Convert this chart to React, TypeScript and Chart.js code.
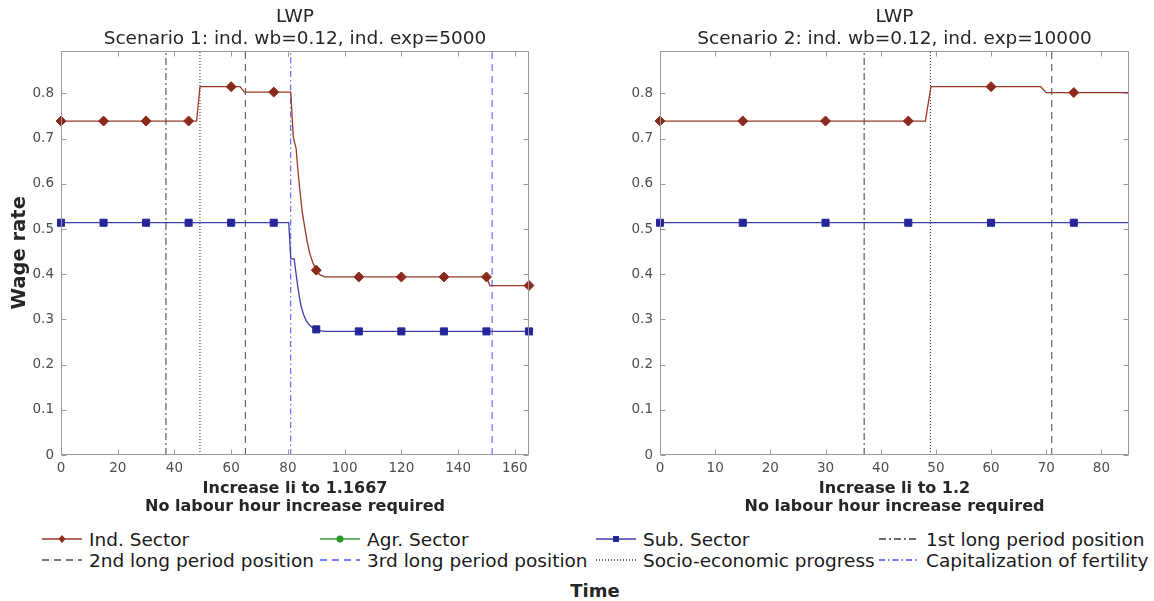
import React, { useEffect, useRef } from "react";
import { Chart, registerables } from "chart.js";

Chart.register(...registerables);

const FONT = "'DejaVu Sans', 'Liberation Sans', sans-serif";

// ---------- Scenario 1 data ----------
const s1IndTime = [0, 15, 30, 45, 47.8, 49, 60, 63.1, 64.7, 75, 81.0, 81.9, 82.9, 83.5, 84.1, 85.0, 85.9, 86.8, 87.7, 88.9, 90, 91.2, 92.9, 105, 120, 135, 150, 151.2, 165];
const s1IndWage = [0.739, 0.739, 0.739, 0.739, 0.739, 0.815, 0.815, 0.815, 0.803, 0.803, 0.803, 0.703, 0.678, 0.632, 0.593, 0.540, 0.505, 0.472, 0.446, 0.424, 0.409, 0.399, 0.394, 0.394, 0.394, 0.394, 0.394, 0.375, 0.375];
const s1SubTime = [0, 15, 30, 45, 60, 75, 80.3, 81.0, 82.2, 82.9, 83.5, 84.1, 84.7, 85.5, 86.4, 87.5, 88.8, 90, 91.2, 92.9, 105, 120, 135, 150, 165];
const s1SubWage = [0.514, 0.514, 0.514, 0.514, 0.514, 0.514, 0.514, 0.434, 0.434, 0.400, 0.372, 0.347, 0.328, 0.311, 0.298, 0.288, 0.281, 0.278, 0.275, 0.2735, 0.2735, 0.2735, 0.2735, 0.2735, 0.2735];
const s1FirstLong = 37;
const s1SocioEco = 49;
const s1SecondLong = 65;
const s1CapFert = 81;
const s1ThirdLong = 152;

// ---------- Scenario 2 data ----------
const s2IndTime = [0, 15, 30, 45, 48.1, 49.1, 60, 69, 70, 75, 85];
const s2IndWage = [0.739, 0.739, 0.739, 0.739, 0.739, 0.815, 0.815, 0.815, 0.802, 0.802, 0.802];
const s2SubTime = [0, 15, 30, 45, 60, 75, 85];
const s2SubWage = [0.514, 0.514, 0.514, 0.514, 0.514, 0.514, 0.514];
const s2FirstLong = 37;
const s2SocioEco = 49;
const s2SecondLong = 71;

// ---------- Axes ----------
const yMax = 0.895;
const yStep = 0.1;
const s1XMax = 165;
const s1XStep = 20;
const s2XMax = 85;
const s2XStep = 10;
const markerEvery = 15;

const s1Title = ["LWP", "Scenario 1: ind. wb=0.12, ind. exp=5000"];
const s2Title = ["LWP", "Scenario 2: ind. wb=0.12, ind. exp=10000"];
const s1XTitle = ["Increase li to 1.1667", "No labour hour increase required"];
const s2XTitle = ["Increase li to 1.2", "No labour hour increase required"];
const yTitle = "Wage rate";
const timeTitle = "Time";

const legendRow1 = ["Ind. Sector", "Agr. Sector", "Sub. Sector", "1st long period position"];
const legendRow2 = ["2nd long period position", "3rd long period position", "Socio-economic progress", "Capitalization of fertility"];

// ---------- Styles ----------
const STY: Record<string, { color: string; dash: number[]; marker?: string; mcolor?: string }> = {
  "Ind. Sector": { color: "#983a2b", dash: [], marker: "diamond", mcolor: "#8a2a1d" },
  "Agr. Sector": { color: "#3aa03a", dash: [], marker: "circle", mcolor: "#2a952a" },
  "Sub. Sector": { color: "#4040a6", dash: [], marker: "square", mcolor: "#26269a" },
  "1st long period position": { color: "#3a3a3a", dash: [7, 3, 2, 3] },
  "2nd long period position": { color: "#4a4a4a", dash: [7, 5] },
  "3rd long period position": { color: "#4f4fff", dash: [7, 5] },
  "Socio-economic progress": { color: "#333333", dash: [1, 2] },
  "Capitalization of fertility": { color: "#4848ff", dash: [6, 3, 1.5, 3] },
};

const pts = (t: number[], w: number[]) => t.map((x, i) => ({ x, y: w[i] }));

function seriesDs(name: string, t: number[], w: number[]) {
  const s = STY[name];
  const isMarker = (ctx: any) => {
    const r = ctx.raw;
    return r && Math.abs(r.x / markerEvery - Math.round(r.x / markerEvery)) < 1e-6;
  };
  return {
    label: name,
    data: pts(t, w),
    borderColor: s.color,
    backgroundColor: s.mcolor,
    borderWidth: 1.3,
    pointStyle: s.marker === "diamond" ? "rectRot" : s.marker === "square" ? "rect" : "circle",
    pointRadius: (ctx: any) => (isMarker(ctx) ? 5 : 0),
    pointHoverRadius: 0,
    pointBorderColor: s.mcolor,
    pointBackgroundColor: s.mcolor,
    pointBorderWidth: 1,
    tension: 0,
    clip: false as any,
    order: 1,
  };
}

function eventDs(name: string, x: number) {
  const s = STY[name];
  return {
    label: name,
    data: [
      { x, y: 0 },
      { x, y: yMax },
    ],
    borderColor: s.color,
    borderDash: s.dash,
    borderWidth: 1,
    pointRadius: 0,
    pointHoverRadius: 0,
    tension: 0,
    order: 2,
  };
}

const boxPlugin = {
  id: "matlabBox",
  afterDraw(chart: any) {
    const { ctx, chartArea } = chart;
    const { left, right, top, bottom } = chartArea;
    const xs = chart.scales.x;
    const ys = chart.scales.y;
    const L = Math.round(left) + 0.5;
    const R = Math.round(right) - 0.5;
    const T = Math.round(top) + 0.5;
    const B = Math.round(bottom) - 0.5;
    ctx.save();
    ctx.strokeStyle = "#9a9a9a";
    ctx.lineWidth = 1;
    ctx.setLineDash([]);
    ctx.beginPath();
    ctx.rect(L, T, R - L, B - T);
    const tl = 5;
    xs.ticks.forEach((t: any) => {
      const px = Math.round(xs.getPixelForValue(t.value)) + 0.5;
      ctx.moveTo(px, B);
      ctx.lineTo(px, B - tl);
      ctx.moveTo(px, T);
      ctx.lineTo(px, T + tl);
    });
    ys.ticks.forEach((t: any) => {
      const py = Math.round(ys.getPixelForValue(t.value)) + 0.5;
      ctx.moveTo(L, py);
      ctx.lineTo(L + tl, py);
      ctx.moveTo(R, py);
      ctx.lineTo(R - tl, py);
    });
    ctx.stroke();
    ctx.restore();
  },
};

function makeConfig(opts: {
  datasets: any[];
  title: string[];
  xTitle: string[];
  xMax: number;
  xStep: number;
  yAxisWidth: number;
  showYTitle: boolean;
  padRight: number;
}) {
  return {
    type: "line" as const,
    data: { datasets: opts.datasets },
    plugins: [boxPlugin],
    options: {
      responsive: false,
      animation: false as const,
      devicePixelRatio: 1,
      layout: { padding: { left: 0, right: opts.padRight, top: 0, bottom: 0 } },
      plugins: {
        legend: { display: false },
        tooltip: { enabled: false },
        title: {
          display: true,
          text: opts.title,
          fullSize: false,
          color: "#262626",
          font: { family: FONT, size: 18.5, weight: "normal" as const, lineHeight: 1.15 },
          padding: { top: 7, bottom: 1 },
        },
      },
      scales: {
        x: {
          type: "linear" as const,
          min: 0,
          max: opts.xMax,
          grid: { display: false, drawTicks: false },
          border: { display: false },
          ticks: {
            stepSize: opts.xStep,
            includeBounds: false,
            autoSkip: false,
            maxRotation: 0,
            padding: 5,
            color: "#4d4d4d",
            font: { family: FONT, size: 13.5 },
          },
          title: {
            display: true,
            text: opts.xTitle,
            color: "#262626",
            font: { family: FONT, size: 16, weight: "bold" as const, lineHeight: 1.15 },
            padding: { top: 0, bottom: 4 },
          },
          afterFit: (s: any) => {
            s.height = 65;
          },
        },
        y: {
          type: "linear" as const,
          min: 0,
          max: yMax,
          grid: { display: false, drawTicks: false },
          border: { display: false },
          ticks: {
            stepSize: yStep,
            includeBounds: false,
            autoSkip: false,
            padding: 7,
            color: "#4d4d4d",
            font: { family: FONT, size: 13.5 },
            callback: (v: any) => String(+Number(v).toFixed(1)),
          },
          title: {
            display: opts.showYTitle,
            text: yTitle,
            color: "#262626",
            font: { family: FONT, size: 19.5, weight: "bold" as const, lineHeight: 1.2 },
            padding: { top: 8, bottom: 0 },
          },
          afterFit: (s: any) => {
            s.width = opts.yAxisWidth;
          },
        },
      },
    },
  };
}

function ChartCanvas({ config, width, height, left }: { config: any; width: number; height: number; left: number }) {
  const ref = useRef<HTMLCanvasElement | null>(null);
  useEffect(() => {
    if (!ref.current) return;
    const chart = new Chart(ref.current, config);
    return () => chart.destroy();
  }, []);
  return (
    <canvas
      ref={ref}
      width={width}
      height={height}
      style={{ position: "absolute", left, top: 0, width, height }}
    />
  );
}

function LegendSample({ name }: { name: string }) {
  const s = STY[name];
  const w = 40;
  const h = 14;
  const c = h / 2;
  let marker: any = null;
  if (s.marker === "diamond")
    marker = <polygon points={`${w / 2},${c - 4} ${w / 2 + 3.5},${c} ${w / 2},${c + 4} ${w / 2 - 3.5},${c}`} fill={s.mcolor} />;
  else if (s.marker === "circle") marker = <circle cx={w / 2} cy={c} r={3.5} fill={s.mcolor} />;
  else if (s.marker === "square") marker = <rect x={w / 2 - 3} y={c - 3} width={6} height={6} fill={s.mcolor} />;
  return (
    <svg width={w} height={h} style={{ display: "block", flex: "0 0 auto" }}>
      <line
        x1={0}
        y1={c}
        x2={w}
        y2={c}
        stroke={s.color}
        strokeWidth={1.3}
        strokeDasharray={s.dash.length ? s.dash.join(" ") : undefined}
      />
      {marker}
    </svg>
  );
}

const legendCols = [42, 320, 596, 879];
const legendRowsY = [539, 560];

export default function App() {
  const cfg1 = makeConfig({
    datasets: [
      seriesDs("Ind. Sector", s1IndTime, s1IndWage),
      seriesDs("Sub. Sector", s1SubTime, s1SubWage),
      eventDs("1st long period position", s1FirstLong),
      eventDs("Socio-economic progress", s1SocioEco),
      eventDs("2nd long period position", s1SecondLong),
      eventDs("Capitalization of fertility", s1CapFert),
      eventDs("3rd long period position", s1ThirdLong),
    ],
    title: s1Title,
    xTitle: s1XTitle,
    xMax: s1XMax,
    xStep: s1XStep,
    yAxisWidth: 61,
    showYTitle: true,
    padRight: 51,
  });
  const cfg2 = makeConfig({
    datasets: [
      seriesDs("Ind. Sector", s2IndTime, s2IndWage),
      seriesDs("Sub. Sector", s2SubTime, s2SubWage),
      eventDs("1st long period position", s2FirstLong),
      eventDs("Socio-economic progress", s2SocioEco),
      eventDs("2nd long period position", s2SecondLong),
    ],
    title: s2Title,
    xTitle: s2XTitle,
    xMax: s2XMax,
    xStep: s2XStep,
    yAxisWidth: 80,
    showYTitle: false,
    padRight: 25,
  });

  const rows = [legendRow1, legendRow2];
  return (
    <div style={{ position: "fixed", left: 0, top: 0, width: 1154, height: 601, background: "#fff", overflow: "hidden" }}>
      <ChartCanvas config={cfg1} width={580} height={520} left={0} />
      <ChartCanvas config={cfg2} width={574} height={520} left={580} />
      {rows.map((row, ri) =>
        row.map((name, ci) => (
          <div
            key={name}
            style={{
              position: "absolute",
              left: legendCols[ci],
              top: legendRowsY[ri] - 11,
              height: 22,
              display: "flex",
              alignItems: "center",
              gap: 7,
              whiteSpace: "nowrap",
              fontFamily: FONT,
              fontSize: 18.5,
              color: "#1a1a1a",
            }}
          >
            <LegendSample name={name} />
            <span>{name}</span>
          </div>
        ))
      )}
      <div
        style={{
          position: "absolute",
          left: 0,
          width: 1190,
          top: 580,
          textAlign: "center",
          fontFamily: FONT,
          fontWeight: "bold",
          fontSize: 18,
          color: "#262626",
        }}
      >
        {timeTitle}
      </div>
    </div>
  );
}
